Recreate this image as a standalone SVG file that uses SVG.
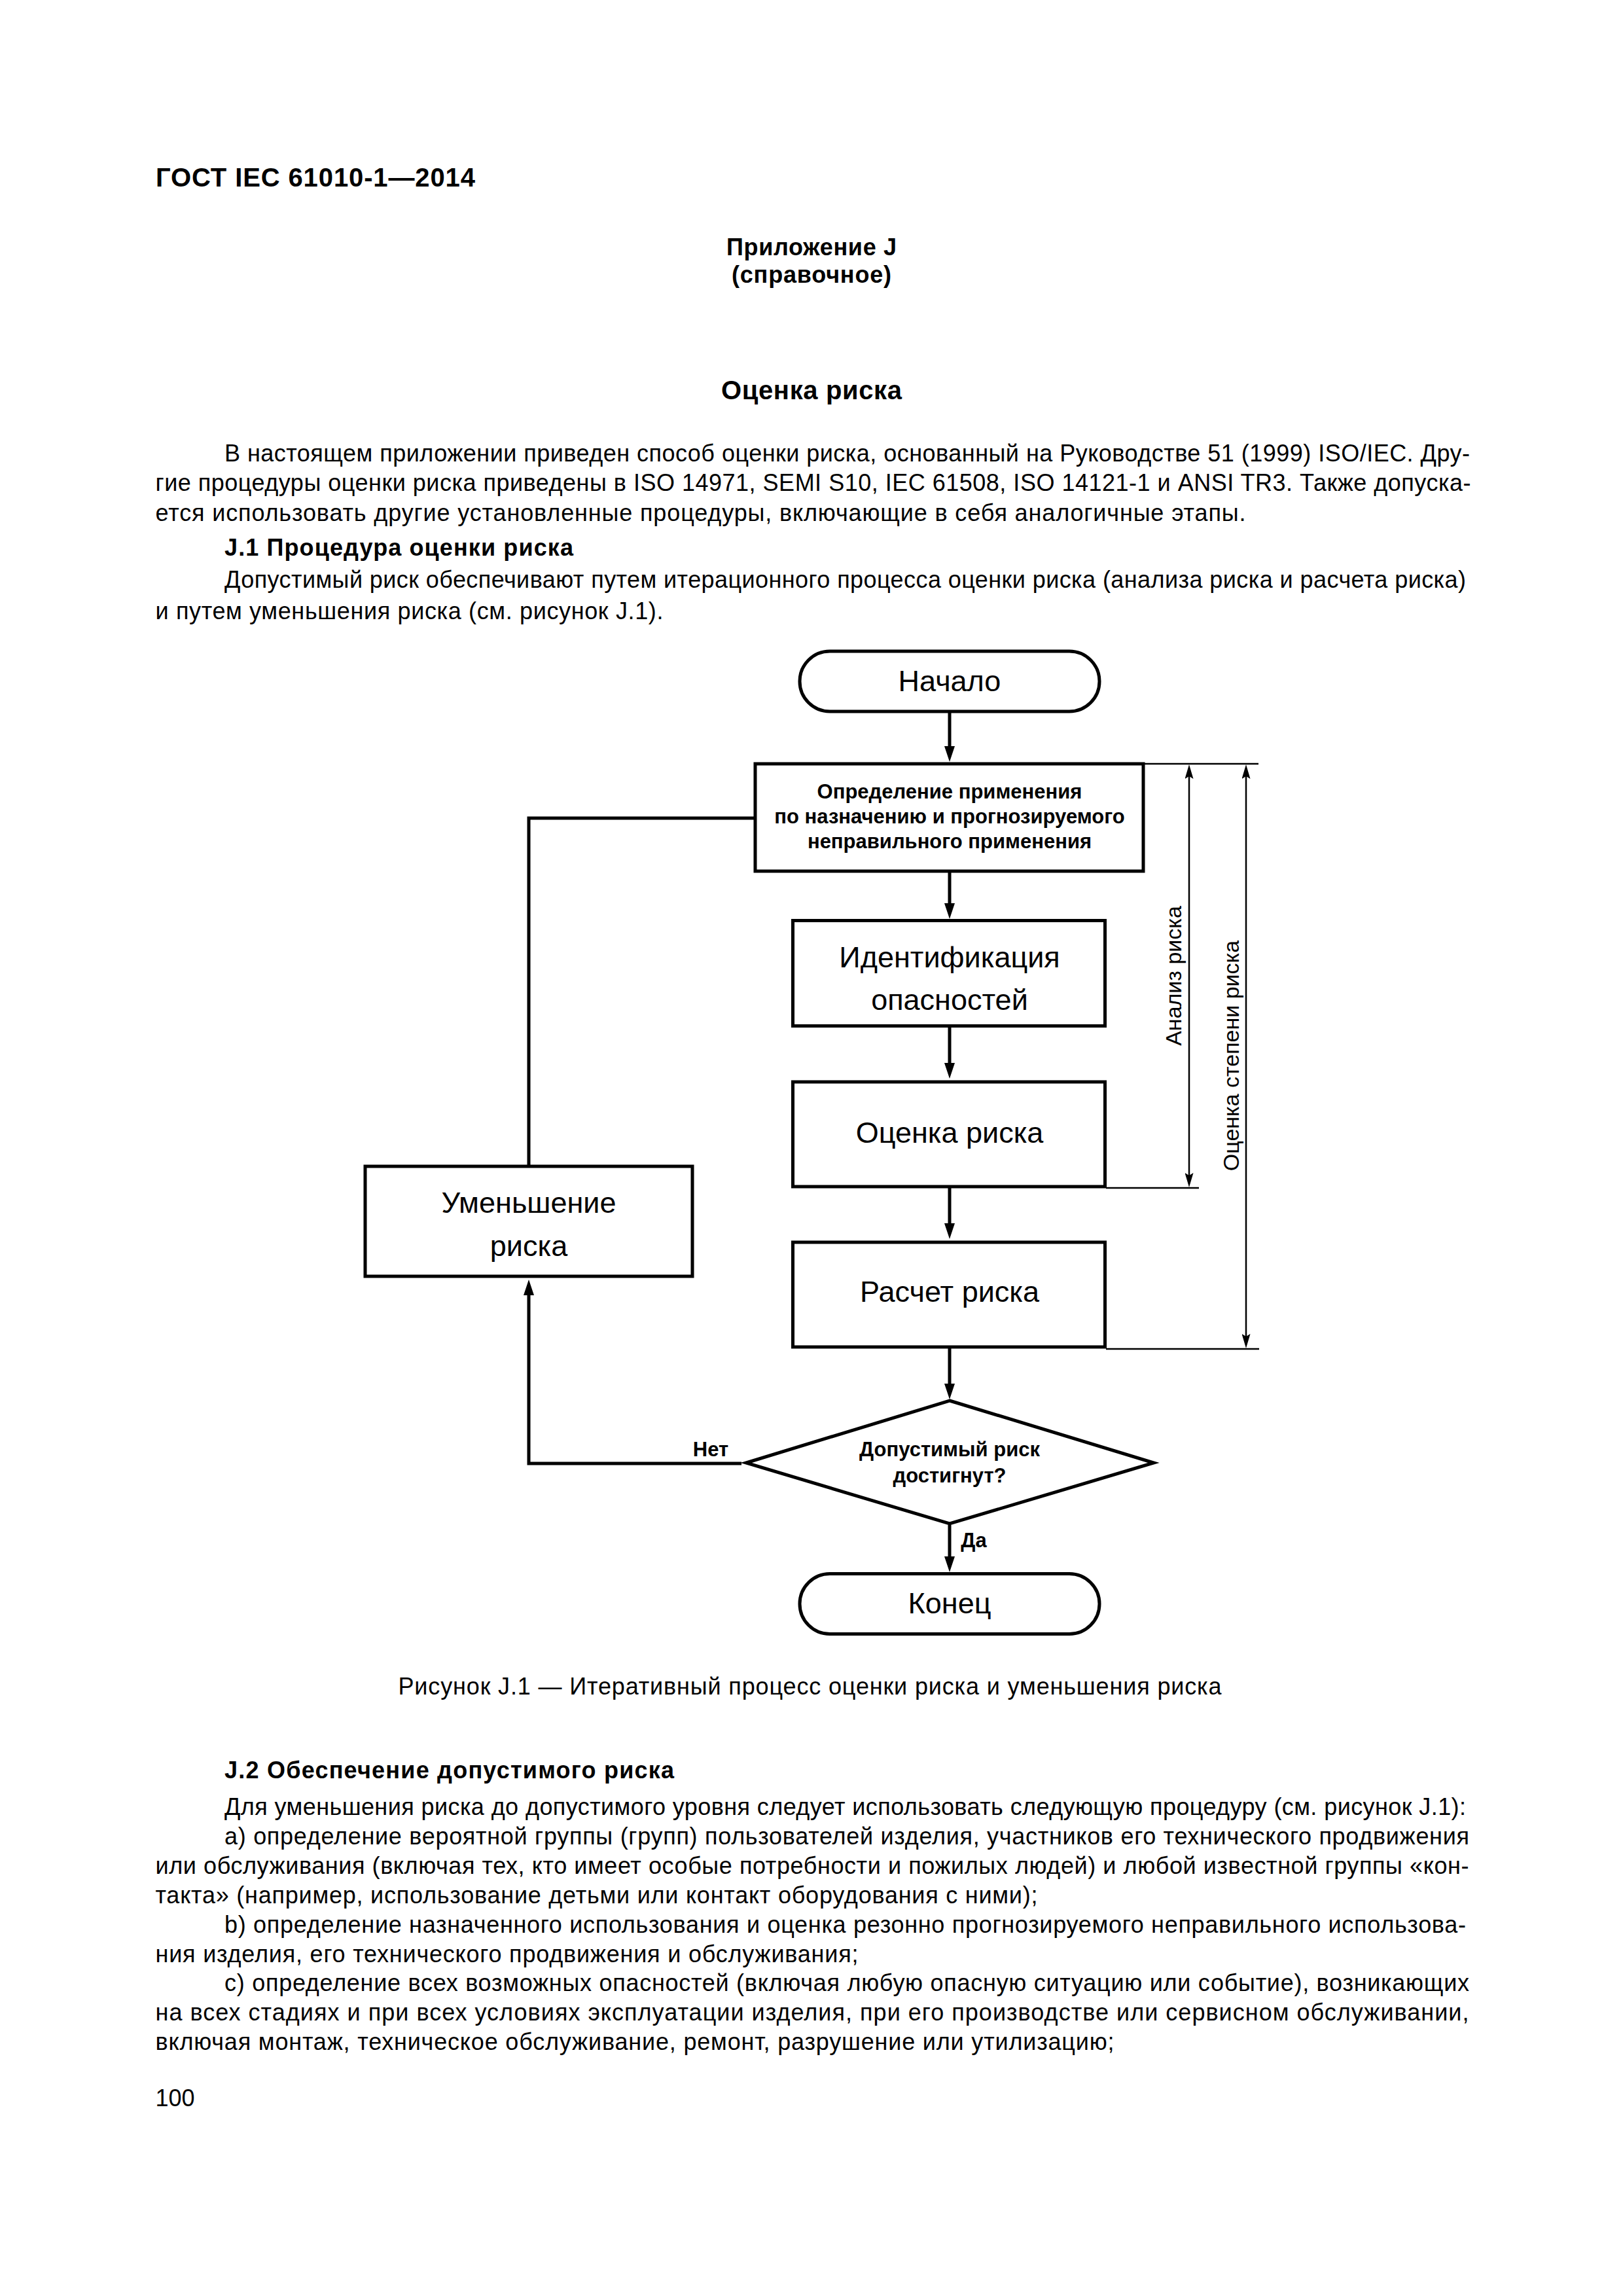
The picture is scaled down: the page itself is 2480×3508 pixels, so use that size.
<svg xmlns="http://www.w3.org/2000/svg" width="2480" height="3508" viewBox="0 0 2480 3508">
<style>
text{font-family:"Liberation Sans",Arial,sans-serif;fill:#000}
.b{font-weight:bold}
.body{font-size:36px}
.h{font-size:36px;font-weight:bold}
.big{font-size:45px;text-anchor:middle}
.sm{font-size:31px;font-weight:bold;text-anchor:middle}
.dim{font-size:34px;text-anchor:middle}
.box{fill:#fff;stroke:#000;stroke-width:5}
.ln{fill:none;stroke:#000;stroke-width:5}
.thin{fill:none;stroke:#000;stroke-width:2.5}
</style>
<defs>
<marker id="ah" markerWidth="24" markerHeight="16" refX="12" refY="8" orient="auto" markerUnits="userSpaceOnUse"><path d="M0,0 L24,8 L0,16 z" fill="#000"/></marker>
<marker id="dh" markerWidth="22" markerHeight="13" refX="11" refY="6.5" orient="auto-start-reverse" markerUnits="userSpaceOnUse"><path d="M0,0 L22,6.5 L0,13 L4,6.5 z" fill="#000"/></marker>
</defs>
<rect width="2480" height="3508" fill="#fff"/>

<g id="page-text">
<text class="b" x="238" y="285" font-size="40" textLength="488" lengthAdjust="spacing">ГОСТ IEC 61010-1—2014</text>
<text class="b" x="1110" y="390" font-size="36" textLength="260" lengthAdjust="spacing">Приложение J</text>
<text class="b" x="1118" y="432" font-size="36" textLength="244" lengthAdjust="spacing">(справочное)</text>
<text class="b" x="1102" y="610" font-size="40" textLength="276" lengthAdjust="spacing">Оценка риска</text>

<text class="body" x="343" y="705" textLength="1903" lengthAdjust="spacing">В настоящем приложении приведен способ оценки риска, основанный на Руководстве 51 (1999) ISO/IEC. Дру-</text>
<text class="body" x="237.5" y="750" textLength="2010" lengthAdjust="spacing">гие процедуры оценки риска приведены в ISO 14971, SEMI S10, IEC 61508, ISO 14121-1 и ANSI TR3. Также допуска-</text>
<text class="body" x="237.5" y="796" textLength="1666" lengthAdjust="spacing">ется использовать другие установленные процедуры, включающие в себя аналогичные этапы.</text>
<text class="h" x="343" y="849" textLength="533" lengthAdjust="spacing">J.1  Процедура оценки риска</text>
<text class="body" x="343" y="898" textLength="1897" lengthAdjust="spacing">Допустимый риск обеспечивают путем итерационного процесса оценки риска (анализа риска и расчета риска)</text>
<text class="body" x="237.5" y="946" textLength="776" lengthAdjust="spacing">и путем уменьшения риска (см. рисунок J.1).</text>

<text class="body" x="608.5" y="2589" textLength="1258" lengthAdjust="spacing">Рисунок  J.1 — Итеративный процесс оценки риска и уменьшения риска</text>

<text class="h" x="343" y="2717" textLength="687" lengthAdjust="spacing">J.2  Обеспечение допустимого риска</text>
<text class="body" x="343" y="2773" textLength="1897" lengthAdjust="spacing">Для уменьшения риска до допустимого уровня следует использовать следующую процедуру (см. рисунок J.1):</text>
<text class="body" x="343" y="2818" textLength="1902" lengthAdjust="spacing">а)  определение вероятной группы (групп) пользователей изделия, участников его технического продвижения</text>
<text class="body" x="237.5" y="2863" textLength="2007" lengthAdjust="spacing">или обслуживания (включая тех, кто имеет особые потребности и пожилых людей) и любой известной группы «кон-</text>
<text class="body" x="237.5" y="2908" textLength="1348" lengthAdjust="spacing">такта» (например, использование детьми или контакт оборудования с ними);</text>
<text class="body" x="343" y="2953" textLength="1897" lengthAdjust="spacing">b)  определение назначенного использования и оценка резонно прогнозируемого неправильного использова-</text>
<text class="body" x="237.5" y="2998" textLength="1074" lengthAdjust="spacing">ния изделия, его технического продвижения и обслуживания;</text>
<text class="body" x="343" y="3042" textLength="1902" lengthAdjust="spacing">с)  определение всех возможных опасностей (включая любую опасную ситуацию или событие), возникающих</text>
<text class="body" x="237.5" y="3087" textLength="2007" lengthAdjust="spacing">на всех стадиях и при всех условиях эксплуатации изделия, при его производстве или сервисном обслуживании,</text>
<text class="body" x="237.5" y="3132" textLength="1465" lengthAdjust="spacing">включая монтаж, техническое обслуживание, ремонт, разрушение или утилизацию;</text>
<text class="body" x="237.5" y="3218">100</text>
</g>

<g id="connectors">
<line class="ln" x1="1451" y1="1089" x2="1451" y2="1152" marker-end="url(#ah)"/>
<line class="ln" x1="1451" y1="1333" x2="1451" y2="1392" marker-end="url(#ah)"/>
<line class="ln" x1="1451" y1="1570" x2="1451" y2="1636" marker-end="url(#ah)"/>
<line class="ln" x1="1451" y1="1815" x2="1451" y2="1881" marker-end="url(#ah)"/>
<line class="ln" x1="1451" y1="2060" x2="1451" y2="2126" marker-end="url(#ah)"/>
<line class="ln" x1="1451" y1="2330" x2="1451" y2="2390" marker-end="url(#ah)"/>
<polyline class="ln" points="1133,2236 808,2236 808,1967" marker-end="url(#ah)"/>
<polyline class="ln" points="808,1780 808,1250 1154,1250"/>
<line class="thin" x1="1749" y1="1167" x2="1923" y2="1167"/>
<line class="thin" x1="1690" y1="1815" x2="1832" y2="1815"/>
<line class="thin" x1="1690" y1="2061" x2="1924" y2="2061"/>
<line class="thin" x1="1817" y1="1179" x2="1817" y2="1803" marker-start="url(#dh)" marker-end="url(#dh)"/>
<line class="thin" x1="1904" y1="1179" x2="1904" y2="2049" marker-start="url(#dh)" marker-end="url(#dh)"/>
<text class="sm" x="1086" y="2225">Нет</text>
<text class="sm" x="1488" y="2364" font-size="32">Да</text>
<text class="dim" transform="translate(1805,1491) rotate(-90)">Анализ риска</text>
<text class="dim" transform="translate(1893,1613) rotate(-90)">Оценка степени риска</text>
</g>

<g id="start">
<rect class="box" x="1222" y="995" width="458" height="92" rx="46"/>
<text class="big" x="1451" y="1056" font-size="44">Начало</text>
</g>
<g id="define-use">
<rect class="box" x="1154" y="1167" width="593" height="164"/>
<text class="sm" x="1451" y="1220">Определение применения</text>
<text class="sm" x="1451" y="1258">по назначению и прогнозируемого</text>
<text class="sm" x="1451" y="1296">неправильного применения</text>
</g>
<g id="identify">
<rect class="box" x="1211.5" y="1406.5" width="477" height="161"/>
<text class="big" x="1451" y="1478">Идентификация</text>
<text class="big" x="1451" y="1543">опасностей</text>
</g>
<g id="estimate">
<rect class="box" x="1211.5" y="1653" width="477" height="160"/>
<text class="big" x="1451" y="1746">Оценка риска</text>
</g>
<g id="evaluate">
<rect class="box" x="1211.5" y="1898" width="477" height="160"/>
<text class="big" x="1451" y="1989">Расчет риска</text>
</g>
<g id="reduce">
<rect class="box" x="558" y="1782" width="500" height="168"/>
<text class="big" x="808" y="1853">Уменьшение</text>
<text class="big" x="808" y="1919">риска</text>
</g>
<g id="decision">
<polygon class="box" points="1451,2140 1763,2235 1451,2328 1140,2235"/>
<text class="sm" x="1451" y="2225" font-size="32">Допустимый риск</text>
<text class="sm" x="1451" y="2265" font-size="32">достигнут?</text>
</g>
<g id="end">
<rect class="box" x="1222" y="2404.5" width="458" height="92" rx="46"/>
<text class="big" x="1451" y="2465" font-size="44">Конец</text>
</g>
</svg>
